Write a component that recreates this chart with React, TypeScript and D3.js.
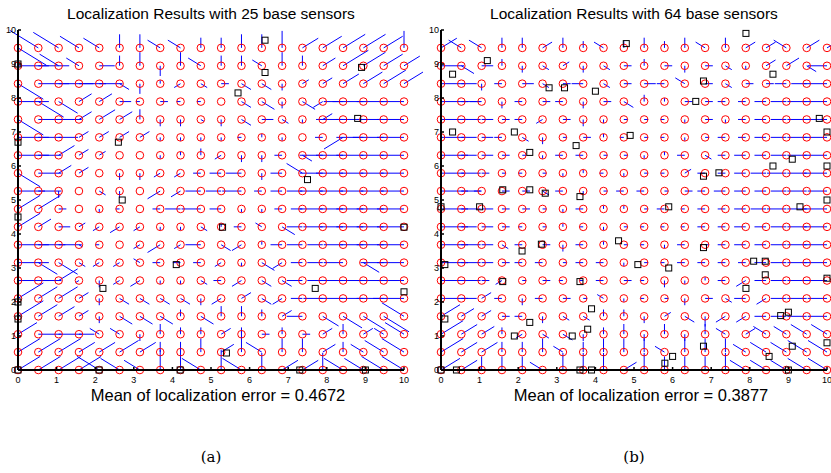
import React from "react";
import * as d3 from "d3";

const titles = ["Localization Results with 25 base sensors", "Localization Results with 64 base sensors"];
const errLabels = ["Mean of localization error = 0.4672", "Mean of localization error = 0.3877"];
const captions = ["(a)", "(b)"];
const ticks = [0, 1, 2, 3, 4, 5, 6, 7, 8, 9, 10];

// error vectors, rows top (y=9.47) to bottom (y=0); token = direction + length digit
const vecA = [
  "c9 b9 b8 b6 b5 N4 N4 b4 b4 N3 N3 N4 N4 N5 a5 a6 a7 a7 a6 N5",
  "E8 E8 b6 b4 E4 N3 N4 S3 N4 b4 N3 N3 b3 N4 N3 a4 a8 a7 a6 a5",
  "c8 E8 E9 E7 E6 c3 S3 N1 d2 c2 E2 c3 c3 S2 a2 a3 a5 a6 a7 a6",
  "E8 c8 c6 a4 a4 E3 W1 E2 W1 W1 E0 c3 c4 S2 c4 d3 W5 W8 W7 W6",
  "c8 E7 E6 a4 a5 a4 N3 S2 S2 c1 S2 c3 E3 c2 S1 a3 W7 W7 W7 W7",
  "E8 E6 E5 a3 a3 a3 a3 S1 S1 S1 S1 W1 N1 S1 N0 W2 d6 W7 W8 W7",
  "E8 E6 a5 a3 a2 N0 N0 S1 N1 N2 d2 S2 S2 W2 c3 W6 W7 W7 W6 W6",
  "c7 E6 a4 a3 N0 S2 S2 d2 d2 W2 W3 W4 S2 W3 b5 W6 W7 W6 W6 W6",
  "E7 E6 S2 N0 c2 S2 N0 d4 d3 W4 W4 W5 W2 W3 W4 W6 W6 W6 W6 W6",
  "a7 a7 E2 N0 S1 W1 N0 W2 W4 W5 W3 S1 S1 W2 W3 W6 W6 W7 W7 W7",
  "a7 a4 E3 a2 d2 d3 d2 S1 S1 c2 N1 W2 b2 c4 W4 W5 W6 W7 W7 W7",
  "E8 E7 E6 c1 W1 N0 d2 d4 d2 W4 c3 d3 N1 W3 W4 W4 W5 W6 W7 W7",
  "E8 c6 c6 c2 d2 d2 b2 W2 W2 W2 d2 S1 c4 d3 W3 W4 W5 c5 W6 W7",
  "E8 E6 a6 d1 S2 d2 d3 S1 S1 c2 W2 d3 c3 c3 W4 W4 W6 W6 W7 W7",
  "a8 a6 a6 a3 S2 c3 c3 c3 c3 S2 d3 a3 c3 d3 W3 W5 W6 W6 W7 W8",
  "a8 a6 a5 a3 S2 c4 c4 c4 N2 c4 N3 N3 N2 a3 W4 c5 c6 c7 c8 b7",
  "a6 E6 E6 E4 b3 b3 S2 N3 N2 N2 a3 N2 E2 N2 E2 a3 N3 a3 b3 b6",
  "a7 a7 a7 a5 a5 a6 a5 N3 N3 N4 a4 N6 b5 N4 N4 a4 N3 b4 b6 b7",
  "a7 a7 a7 a7 b7 b6 b5 N6 N6 b6 N6 b6 N5 a5 a5 N5 b6 b6 b7 b7",
];
const vecB = [
  "a5 b4 b4 N3 N3 a3 N3 N2 b3 N2 N3 N2 N3 b3 N3 a3 a3 b4 a4 a5",
  "E6 c4 E3 N2 S2 c2 a2 S2 c2 E2 N2 E2 S2 E2 c2 S1 a3 a4 c3 W5",
  "E6 E4 S2 W2 E3 c2 E2 W3 c2 E2 E3 W2 b3 E2 c2 E2 E2 W3 W4 W6",
  "E7 E5 W3 S2 W2 E2 W2 S2 E2 c3 N2 N1 E2 E2 W2 W2 W3 W4 W5 W6",
  "E7 E5 E3 E2 W2 d2 E2 S2 S1 E1 E1 W1 S1 E2 S1 W2 W3 W4 W5 W6",
  "E6 E4 E3 W2 c2 S2 E1 E2 N1 W1 E1 W1 S1 E1 W2 W2 W3 W4 W5 W6",
  "E7 E4 E3 E2 E1 S1 W2 W2 E1 E1 S1 N1 W2 c2 W2 W3 W3 W4 W5 W6",
  "E6 E5 E2 E1 W1 E1 S1 N1 W1 S1 E1 W1 a2 W2 W2 W3 W4 W5 W5 W6",
  "E7 E5 W2 E2 E2 c2 W2 S1 E1 W2 W2 E1 E2 W2 W3 W3 W3 W4 W5 W5",
  "E7 E5 E3 E2 E2 E1 S1 W2 N1 N1 E1 W2 W1 W2 W2 W3 W4 W5 W5 W6",
  "E7 E4 E3 E2 W1 E1 N1 W1 S1 E1 W1 W1 W1 W2 W2 W3 W3 W4 W5 W6",
  "E7 E5 E3 c2 W2 E2 S2 W2 N1 E1 W1 S1 W2 E1 W2 W3 W3 W4 W5 W6",
  "E7 E5 E3 E2 W2 W2 E1 W2 W2 S1 E1 W1 W2 W2 W2 W2 W3 W4 W5 W6",
  "E6 E5 E2 d2 E1 E2 W1 W1 W2 E2 W1 S2 S1 N1 W2 d3 W3 W4 W5 W6",
  "E7 E4 a3 W2 S2 W2 E2 E1 b2 S1 W1 E1 S2 E2 c2 W3 d3 W4 W5 W5",
  "a6 a4 a3 E2 W2 S2 c2 c2 N2 N2 S2 a2 c3 S3 d3 d3 W3 W4 W5 W5",
  "a7 a5 a4 N2 d2 c2 c3 S2 N2 N3 S2 N3 S2 N3 b3 a3 b4 b4 b5 b5",
  "a7 a5 a5 N3 N3 N4 b3 N3 N4 N4 N4 b3 N4 N4 N4 b4 b5 b5 b6 b6",
  "a6 a5 N4 N4 N4 b4 N5 N5 N5 a4 N5 N4 N4 N4 N5 b5 b5 b5 b6 b6",
];
const anchorsA: [number, number][] = [
  [6.4, 9.7], [6.4, 8.75], [5.7, 8.15], [8.9, 8.9], [8.8, 7.4], [2.6, 6.7], [0, 6.7], [7.5, 5.6],
  [2.7, 5.0], [0, 4.5], [5.3, 4.2], [10, 4.2], [4.1, 3.1], [2.2, 2.4], [7.7, 2.4], [0, 1.5],
  [10, 2.3], [5.4, 0.5], [2.1, 0], [7.3, 0], [9, 0], [0, 0], [0, 2.0], [0, 9.0], [4.2, 0],
];
const anchorsB: [number, number][] = [
  [4.8, 9.6], [7.9, 9.9], [0.3, 8.7], [1.2, 9.1], [8.6, 8.7], [2.8, 8.3], [3.2, 8.3], [4.0, 8.2],
  [6.6, 7.9], [6.8, 8.5], [0.3, 7.0], [1.9, 7.0], [3.5, 6.6], [4.9, 6.9], [9.8, 7.4], [10, 7.0],
  [2.3, 6.4], [6.8, 5.7], [7.2, 5.8], [8.6, 6.0], [9.1, 6.2], [10, 6.0], [1.6, 5.3], [2.3, 5.3],
  [2.7, 5.2], [3.6, 5.1], [1.0, 4.8], [0, 4.8], [5.9, 4.8], [9.3, 4.8], [10, 5.0], [4.6, 3.8],
  [6.8, 3.6], [2.1, 3.5], [2.6, 3.7], [8.4, 3.2], [8.1, 3.2], [0.1, 3.1], [5.1, 3.1], [5.9, 3.0],
  [1.6, 2.6], [3.6, 2.6], [7.9, 2.4], [8.4, 2.8], [10, 2.7], [3.9, 1.8], [8.8, 1.6], [9.0, 1.7],
  [0.1, 1.5], [1.9, 1.0], [2.3, 1.4], [3.4, 1.0], [3.8, 1.2], [8.5, 0.4], [6.0, 0.4], [6.8, 0.7],
  [9.1, 0.7], [10, 0.8], [0, 0], [0.4, 0], [3.6, 0], [3.9, 0], [5.8, 0.2], [9.0, 0],
];

const step = 10 / 19;
const unit = 0.1;
const dirs: Record<string, [number, number]> = {
  N: [0, 1], S: [0, -1], E: [1, 0], W: [-1, 0],
  a: [0.82, 0.57], b: [-0.82, 0.57], c: [0.82, -0.57], d: [-0.82, -0.57],
};

function Panel({ x0, vec, anchors, title, label, caption }: any) {
  const x = d3.scaleLinear().domain([0, 10]).range([x0, x0 + 386]);
  const y = d3.scaleLinear().domain([0, 10]).range([370, 30]);
  const lines: any[] = [];
  const circles: any[] = [];
  vec.forEach((row: string, ri: number) => {
    const yv = (18 - ri) * step;
    row.split(" ").forEach((tok, ci) => {
      const xv = ci * step;
      const [dx, dy] = dirs[tok[0]];
      const len = +tok[1] * unit;
      circles.push([xv, yv]);
      lines.push([xv, yv, xv + dx * len, yv + dy * len]);
    });
  });
  return (
    <g>
      <text x={x(5)} y={19} textAnchor="middle" fontSize={15.5} fontFamily="Liberation Sans, Arial">{title}</text>
      {lines.map((l, i) => (
        <line key={i} x1={x(l[0])} y1={y(l[1])} x2={x(l[2])} y2={y(l[3])} stroke="#0000ff" strokeWidth={1} />
      ))}
      {circles.map((c, i) => (
        <circle key={i} cx={x(c[0])} cy={y(c[1])} r={3.8} fill="none" stroke="#ff0000" strokeWidth={1} />
      ))}
      {anchors.map((a: [number, number], i: number) => (
        <rect key={i} x={x(a[0]) - 3} y={y(a[1]) - 3} width={6} height={6} fill="none" stroke="#000" strokeWidth={1} />
      ))}
      <line x1={x(0)} y1={y(0)} x2={x(10)} y2={y(0)} stroke="#000" strokeWidth={2} />
      <line x1={x(0)} y1={y(0)} x2={x(0)} y2={y(10)} stroke="#000" strokeWidth={2} />
      {ticks.map((t) => (
        <g key={t}>
          <line x1={x(t)} y1={y(0)} x2={x(t)} y2={y(0) - 3} stroke="#000" strokeWidth={1.5} />
          <line x1={x(0)} y1={y(t)} x2={x(0) + 3} y2={y(t)} stroke="#000" strokeWidth={1.5} />
          <text x={x(t)} y={383} textAnchor="middle" fontSize={9} fontFamily="Liberation Sans, Arial">{t}</text>
          <text x={x(0) - 2} y={y(t) + 3} textAnchor="end" fontSize={9} fontFamily="Liberation Sans, Arial">{t}</text>
        </g>
      ))}
      <text x={x(5) + 7} y={401} textAnchor="middle" fontSize={16.5} fontFamily="Liberation Sans, Arial">{label}</text>
      <text x={x(5)} y={462} textAnchor="middle" fontSize={15} fontFamily="DejaVu Serif, serif">{caption}</text>
    </g>
  );
}

export default function App() {
  return (
    <svg width={831} height={473} style={{ position: "absolute", left: 0, top: 0, background: "#fff" }}>
      <Panel x0={18} vec={vecA} anchors={anchorsA} title={titles[0]} label={errLabels[0]} caption={captions[0]} />
      <Panel x0={441} vec={vecB} anchors={anchorsB} title={titles[1]} label={errLabels[1]} caption={captions[1]} />
    </svg>
  );
}
